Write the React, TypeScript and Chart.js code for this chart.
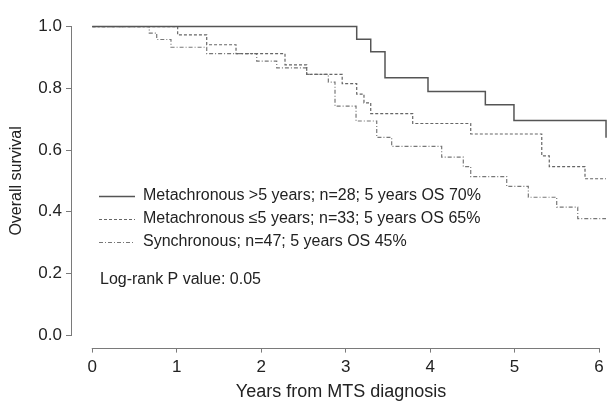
import React, { useEffect, useRef } from "react";
import { Chart, registerables } from "chart.js";

Chart.register(...registerables);

// ---- Data (Kaplan–Meier step points: time in years, survival) ----
const META_GT5_TIMES = [0, 3.131, 3.297, 3.466, 3.975, 4.654, 4.993, 6.083];
const META_GT5_SURV = [1.0, 0.959, 0.918, 0.834, 0.79, 0.747, 0.696, 0.64];

const META_LE5_TIMES = [0, 1.011, 1.355, 1.702, 2.282, 2.539, 2.959, 3.131, 3.217, 3.297, 3.794, 4.481, 5.322, 5.411, 5.834, 6.083];
const META_LE5_SURV = [1.0, 0.973, 0.941, 0.912, 0.876, 0.845, 0.815, 0.781, 0.753, 0.718, 0.686, 0.652, 0.581, 0.546, 0.507, 0.507];

const SYNC_TIMES = [0, 0.675, 0.763, 0.932, 1.355, 1.947, 2.184, 2.539, 2.795, 2.874, 3.123, 3.368, 3.545, 4.137, 4.393, 4.481, 4.907, 5.163, 5.499, 5.748, 6.083];
const SYNC_SURV = [1.0, 0.979, 0.958, 0.933, 0.912, 0.888, 0.866, 0.845, 0.82, 0.742, 0.694, 0.641, 0.612, 0.577, 0.546, 0.514, 0.482, 0.447, 0.415, 0.378, 0.378];

const SERIES_LABELS = [
  "Metachronous >5 years; n=28; 5 years OS 70%",
  "Metachronous \u22645 years; n=33; 5 years OS 65%",
  "Synchronous; n=47; 5 years OS 45%",
];
const PVALUE_TEXT = "Log-rank P value: 0.05";

const X_TICKS = [0, 1, 2, 3, 4, 5, 6];
const Y_TICKS = [0, 0.2, 0.4, 0.6, 0.8, 1.0];
const X_TITLE = "Years from MTS diagnosis";
const Y_TITLE = "Overall survival";

const toPoints = (t: number[], s: number[]) => t.map((x, i) => ({ x, y: s[i] }));

const FONT = "'Liberation Sans', Arial, Helvetica, sans-serif";

const axisLinesPlugin = {
  id: "axisLines",
  afterDraw(chart: any) {
    const { ctx, scales, chartArea } = chart;
    const xs = scales.x;
    const ys = scales.y;
    ctx.save();
    ctx.strokeStyle = "#7a7a7a";
    ctx.lineWidth = 1;
    ctx.beginPath();
    const yb = Math.round(chartArea.bottom) + 0.5;
    ctx.moveTo(xs.getPixelForValue(X_TICKS[0]) - 0.5, yb);
    ctx.lineTo(xs.getPixelForValue(X_TICKS[X_TICKS.length - 1]) + 0.5, yb);
    const xl = Math.round(chartArea.left) - 0.5;
    ctx.moveTo(xl, ys.getPixelForValue(Y_TICKS[0]) + 0.5);
    ctx.lineTo(xl, ys.getPixelForValue(Y_TICKS[Y_TICKS.length - 1]) - 0.5);
    ctx.stroke();
    ctx.restore();
  },
};

const legendPlugin = {
  id: "kmLegend",
  afterDraw(chart: any) {
    const { ctx } = chart;
    const ds = chart.data.datasets;
    const rowY = [196, 219, 242];
    ctx.save();
    ctx.font = `16px ${FONT}`;
    ctx.textBaseline = "middle";
    ctx.textAlign = "left";
    SERIES_LABELS.forEach((label, i) => {
      const y = rowY[i] + 0.5;
      ctx.beginPath();
      ctx.strokeStyle = ds[i].borderColor;
      ctx.lineWidth = ds[i].borderWidth;
      ctx.setLineDash(ds[i].borderDash || []);
      ctx.moveTo(99, y);
      ctx.lineTo(135, y);
      ctx.stroke();
      ctx.setLineDash([]);
      ctx.fillStyle = "#222";
      ctx.fillText(label, 143, rowY[i]);
    });
    ctx.fillStyle = "#222";
    ctx.fillText(PVALUE_TEXT, 100, 280);
    ctx.restore();
  },
};

export default function App() {
  const ref = useRef<HTMLCanvasElement | null>(null);

  useEffect(() => {
    document.body.style.margin = "0";
    const canvas = ref.current;
    if (!canvas) return;
    const chart = new Chart(canvas, {
      type: "line",
      data: {
        datasets: [
          {
            label: SERIES_LABELS[0],
            data: toPoints(META_GT5_TIMES, META_GT5_SURV),
            borderColor: "#555555",
            borderWidth: 1.5,
            stepped: "before",
            pointRadius: 0,
            fill: false,
          },
          {
            label: SERIES_LABELS[1],
            data: toPoints(META_LE5_TIMES, META_LE5_SURV),
            borderColor: "#666666",
            borderWidth: 1.2,
            borderDash: [3, 2],
            stepped: "before",
            pointRadius: 0,
            fill: false,
          },
          {
            label: SERIES_LABELS[2],
            data: toPoints(SYNC_TIMES, SYNC_SURV),
            borderColor: "#777777",
            borderWidth: 1.2,
            borderDash: [4, 2, 1, 2],
            stepped: "before",
            pointRadius: 0,
            fill: false,
          },
        ],
      },
      options: {
        animation: false,
        responsive: false,
        devicePixelRatio: 1,
        layout: { padding: { top: 6.4, right: 0, bottom: 0, left: 0 } },
        plugins: {
          legend: { display: false },
          tooltip: { enabled: false },
        },
        scales: {
          x: {
            type: "linear",
            min: -0.24,
            max: 6.13,
            afterFit: (s: any) => {
              s.height = 55.4;
            },
            afterBuildTicks: (s: any) => {
              s.ticks = X_TICKS.map((value) => ({ value }));
            },
            border: { display: false },
            grid: {
              display: true,
              drawOnChartArea: false,
              drawTicks: true,
              tickLength: 5,
              color: "#7a7a7a",
            },
            ticks: {
              padding: 5,
              color: "#222",
              font: { family: FONT, size: 17 },
              maxRotation: 0,
              callback: (v: any) => String(v),
            },
            title: {
              display: true,
              text: X_TITLE,
              color: "#222",
              font: { family: FONT, size: 18 },
              padding: { top: 0, bottom: 0 },
            },
          },
          y: {
            type: "linear",
            min: -0.04,
            max: 1.04,
            afterFit: (s: any) => {
              s.width = 72;
            },
            afterBuildTicks: (s: any) => {
              s.ticks = Y_TICKS.map((value) => ({ value }));
            },
            border: { display: false },
            grid: {
              display: true,
              drawOnChartArea: false,
              drawTicks: true,
              tickLength: 6,
              color: "#7a7a7a",
            },
            ticks: {
              padding: 4,
              color: "#222",
              font: { family: FONT, size: 17 },
              callback: (v: any) => Number(v).toFixed(1),
            },
            title: {
              display: true,
              text: Y_TITLE,
              color: "#222",
              font: { family: FONT, size: 16 },
              padding: { top: 7, bottom: 0 },
            },
          },
        },
      },
      plugins: [axisLinesPlugin, legendPlugin],
    });
    return () => chart.destroy();
  }, []);

  return (
    <div style={{ position: "fixed", left: 0, top: 0, width: 610, height: 403, background: "#fff" }}>
      <canvas ref={ref} width={610} height={403} />
    </div>
  );
}
